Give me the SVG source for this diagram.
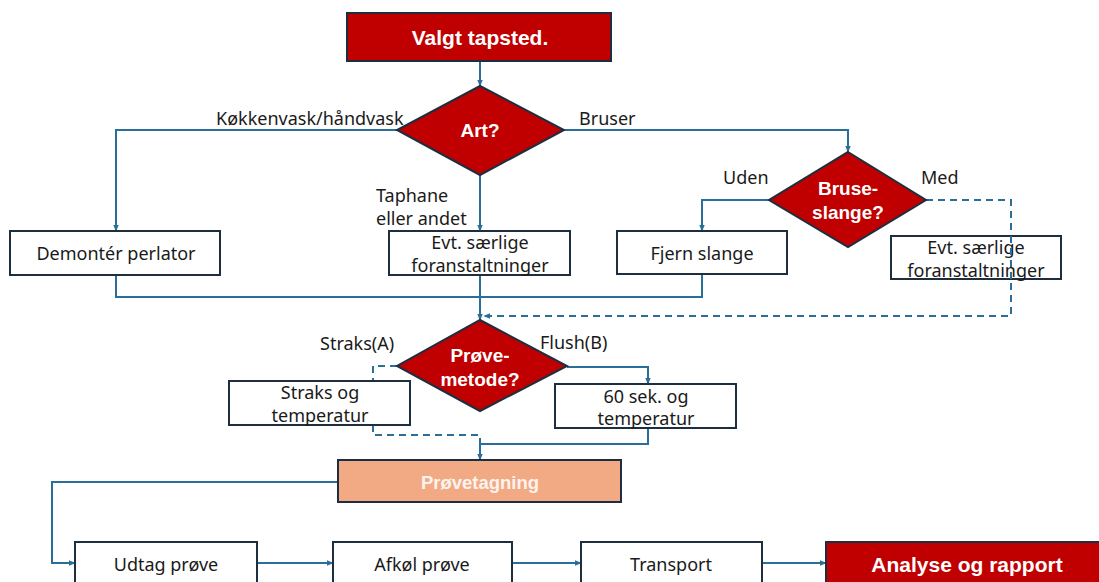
<svg xmlns="http://www.w3.org/2000/svg" width="1099" height="582" viewBox="0 0 1099 582">
<defs>
<marker id="ah" viewBox="0 0 10 10" refX="9" refY="5" markerWidth="7" markerHeight="7" orient="auto" markerUnits="userSpaceOnUse">
<path d="M0,1 L10,5 L0,9 z" fill="#2a6f97"/>
</marker>
<style>
.box{fill:#fff;stroke:#1c2e40;stroke-width:2}
.red{fill:#c00000;stroke:#1c2e40;stroke-width:2}
.sal{fill:#f2aa84;stroke:#1c2e40;stroke-width:2}
.t{font-family:"Noto Sans","Liberation Sans",sans-serif;font-size:18px;fill:#1a1a1a;text-anchor:middle;dominant-baseline:central}
.l{font-family:"Noto Sans","Liberation Sans",sans-serif;font-size:18px;fill:#1a1a1a;dominant-baseline:central}
.w{font-family:"Liberation Sans","Noto Sans",sans-serif;font-size:19px;font-weight:bold;fill:#fff;text-anchor:middle;dominant-baseline:central}
.c{fill:none;stroke:#2a6f97;stroke-width:2}
.d{fill:none;stroke:#2a6f97;stroke-width:2;stroke-dasharray:7 5}
</style>
</defs>
<rect width="1099" height="582" fill="#fff"/>

<g id="connectors">
<path class="c" d="M480,61 V86" marker-end="url(#ah)"/>
<path class="c" d="M397,130 H116 V231" marker-end="url(#ah)"/>
<path class="c" d="M564,130 H848 V152" marker-end="url(#ah)"/>
<path class="c" d="M480,175 V231" marker-end="url(#ah)"/>
<path class="c" d="M769,200 H702 V231" marker-end="url(#ah)"/>
<path class="d" d="M926,200 H1011 V316 H484" marker-end="url(#ah)"/>
<path class="c" d="M116,275 V297 H702 V274"/>
<path class="c" d="M480,275 V320" marker-end="url(#ah)"/>
<path class="d" d="M397,366 H373 V381"/>
<path class="c" d="M567,367 H648 V384" marker-end="url(#ah)"/>
<path class="d" d="M373,425 V435 H480 V444"/>
<path class="c" d="M648,428 V444 H480 V460" marker-end="url(#ah)"/>
<path class="c" d="M338,482 H52 V563 H75" marker-end="url(#ah)"/>
<path class="c" d="M257,563 H333" marker-end="url(#ah)"/>
<path class="c" d="M512,563 H581" marker-end="url(#ah)"/>
<path class="c" d="M762,563 H826" marker-end="url(#ah)"/>
<text class="l" x="216" y="118">Køkkenvask/håndvask</text>
<text class="l" x="579" y="118">Bruser</text>
<text class="l" x="376" y="195">Taphane</text>
<text class="l" x="376" y="218">eller andet</text>
<text class="l" x="723" y="177">Uden</text>
<text class="l" x="921" y="177">Med</text>
<text class="l" x="320" y="343">Straks(A)</text>
<text class="l" x="540" y="342">Flush(B)</text>
</g>

<g id="start">
<rect class="red" x="347" y="13" width="264" height="48"/>
<text class="w" x="480" y="37" style="font-size:21px">Valgt tapsted.</text>
</g>

<g id="art">
<polygon class="red" points="480,86 564,130 480,175 397,130"/>
<text class="w" x="480" y="130">Art?</text>
</g>

<g id="demonter">
<rect class="box" x="10" y="231" width="210" height="44"/>
<text class="t" x="116" y="253">Demontér perlator</text>
</g>

<g id="evt1">
<rect class="box" x="389" y="231" width="181" height="44"/>
<text class="t" x="480" y="242">Evt. særlige</text>
<text class="t" x="480" y="265">foranstaltninger</text>
</g>

<g id="bruseslange">
<polygon class="red" points="848,152 926,200 848,247 769,200"/>
<text class="w" x="848" y="188">Bruse-</text>
<text class="w" x="848" y="212">slange?</text>
</g>

<g id="fjern">
<rect class="box" x="617" y="231" width="170" height="43"/>
<text class="t" x="702" y="253">Fjern slange</text>
</g>

<g id="evt2">
<rect class="box" x="891" y="236" width="170" height="43"/>
<text class="t" x="976" y="247">Evt. særlige</text>
<text class="t" x="976" y="270">foranstaltninger</text>
<path class="d" d="M1011,236 V279"/>
</g>

<g id="provemetode">
<polygon class="red" points="480,320 567,366 480,411 397,366"/>
<text class="w" x="480" y="355">Prøve-</text>
<text class="w" x="480" y="379">metode?</text>
</g>

<g id="straks">
<rect class="box" x="229" y="381" width="181" height="44"/>
<text class="t" x="320" y="392">Straks og</text>
<text class="t" x="320" y="415">temperatur</text>
</g>

<g id="sek60">
<rect class="box" x="555" y="384" width="181" height="44"/>
<text class="t" x="646" y="396">60 sek. og</text>
<text class="t" x="646" y="418">temperatur</text>
</g>

<g id="provetagning">
<rect class="sal" x="338" y="460" width="283" height="42"/>
<text class="w" x="480" y="482" style="font-size:18.5px;fill:#fdf3ee">Prøvetagning</text>
</g>

<g id="udtag">
<rect class="box" x="75" y="542" width="182" height="50"/>
<text class="t" x="166" y="564">Udtag prøve</text>
</g>

<g id="afkol">
<rect class="box" x="333" y="542" width="179" height="50"/>
<text class="t" x="422" y="564">Afkøl prøve</text>
</g>

<g id="transport">
<rect class="box" x="581" y="542" width="181" height="50"/>
<text class="t" x="671" y="564">Transport</text>
</g>

<g id="analyse">
<rect class="red" x="826" y="542" width="280" height="50"/>
<text class="w" x="967" y="564" style="font-size:21px">Analyse og rapport</text>
</g>
</svg>
